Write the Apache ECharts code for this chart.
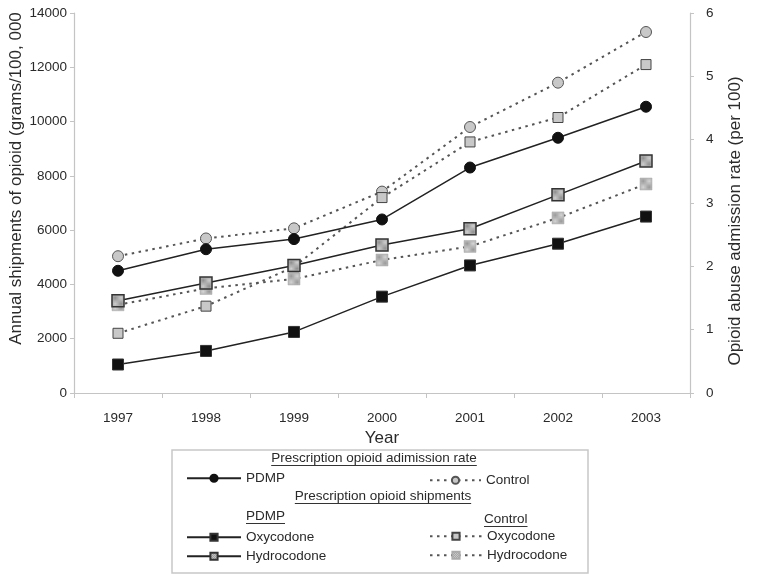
<!DOCTYPE html>
<html>
<head>
<meta charset="utf-8">
<script src="https://cdn.jsdelivr.net/npm/echarts@6/dist/echarts.min.js"></script>
<style>
html,body{margin:0;padding:0;background:#fff;}
#chart{width:769px;height:587px;}
</style>
</head>
<body>
<div id="chart"></div>
<script>
// ---- data ----
const years = ['1997', '1998', '1999', '2000', '2001', '2002', '2003'];
// Admission rate (per 100) - right axis
const pdmpRate = [1.93, 2.27, 2.43, 2.74, 3.56, 4.03, 4.52];
const controlRate = [2.16, 2.44, 2.60, 3.18, 4.20, 4.90, 5.70];
// Shipments (grams/100,000) - left axis
const pdmpOxy = [1050, 1550, 2250, 3550, 4700, 5500, 6500];
const pdmpHydro = [3400, 4050, 4700, 5450, 6050, 7300, 8550];
const controlOxy = [2200, 3200, 4650, 7200, 9250, 10150, 12100];
const controlHydro = [3250, 3850, 4200, 4900, 5400, 6450, 7700];
// axis ranges
const leftAxisRange = [0, 14000, 2000];
const rightAxisRange = [0, 6, 1];

const FONT = '"Liberation Sans", Arial, sans-serif';
const TXT = '#2a2a2a';

function stipple(a, b) {
  const c = document.createElement('canvas');
  c.width = 2; c.height = 2;
  const g = c.getContext('2d');
  g.fillStyle = a; g.fillRect(0, 0, 2, 2);
  g.fillStyle = b; g.fillRect(0, 0, 1, 1); g.fillRect(1, 1, 1, 1);
  return c;
}
const stipA = { image: stipple('#d2d2d2', '#8c8c8c'), repeat: 'repeat' };
const stipB = { image: stipple('#d8d8d8', '#969696'), repeat: 'repeat' };

const solidLine = { color: '#222', width: 1.5, type: 'solid' };
const dotLine = { color: '#555', width: 2, type: [2.5, 4.5] };

const chart = echarts.init(document.getElementById('chart'), null, { renderer: 'canvas' });

function leg(name, label, left, cy, w) {
  return {
    data: [name], formatter: label, left: left, top: cy - 7.75,
    orient: 'horizontal', itemWidth: w, itemHeight: 9, padding: 0, itemGap: 0,
    selectedMode: false,
    textStyle: { fontFamily: FONT, fontSize: 13.5, color: TXT }
  };
}

// measure text for underlines
const mctx = document.createElement('canvas').getContext('2d');
function tw(t, size) { mctx.font = size + 'px ' + FONT; return mctx.measureText(t).width; }
function heading(t, cx, cy, align) {
  const w = tw(t, 13.5);
  const x0 = align === 'left' ? cx : cx - w / 2;
  return [
    { type: 'text', x: x0, y: cy, style: { text: t, fontFamily: FONT, fontSize: 13.5, fill: TXT, textAlign: 'left', textVerticalAlign: 'middle' } },
    { type: 'line', shape: { x1: x0, y1: cy + 7.5, x2: x0 + w, y2: cy + 7.5 }, style: { stroke: '#333', lineWidth: 1 } }
  ];
}

const option = {
  animation: false,
  backgroundColor: '#fff',
  grid: { left: 74, right: 79, top: 13, bottom: 194, containLabel: false, outerBoundsMode: 'none' },
  xAxis: {
    type: 'category', data: years, boundaryGap: true,
    name: 'Year', nameLocation: 'middle', nameGap: 37,
    nameTextStyle: { fontFamily: FONT, fontSize: 17, color: TXT },
    axisLine: { lineStyle: { color: '#c4c4c4', width: 1.2 } },
    axisTick: { show: true, length: 5, lineStyle: { color: '#c4c4c4' } },
    axisLabel: { margin: 18, fontFamily: FONT, fontSize: 13.5, color: TXT },
    splitLine: { show: false }
  },
  yAxis: [
    {
      type: 'value', position: 'left', min: leftAxisRange[0], max: leftAxisRange[1], interval: leftAxisRange[2],
      name: 'Annual shipments of opioid (grams/100, 000', nameLocation: 'middle', nameGap: 49,
      nameMoveOverlap: false,
      nameTextStyle: { fontFamily: FONT, fontSize: 17, color: TXT, padding: [0, 0, 0, 49] },
      axisLine: { show: true, lineStyle: { color: '#c4c4c4', width: 1.2 } },
      axisTick: { show: true, length: 4, lineStyle: { color: '#c4c4c4' } },
      axisLabel: { margin: 7, fontFamily: FONT, fontSize: 13.5, color: TXT, formatter: v => String(v) },
      splitLine: { show: false }
    },
    {
      type: 'value', position: 'right', min: rightAxisRange[0], max: rightAxisRange[1], interval: rightAxisRange[2],
      name: 'Opioid abuse admission rate (per 100)', nameLocation: 'middle', nameGap: 37,
      nameTextStyle: { fontFamily: FONT, fontSize: 17, color: TXT, padding: [0, 36, 0, 0] },
      axisLine: { show: true, lineStyle: { color: '#c4c4c4', width: 1.2 } },
      axisTick: { show: true, length: 4, lineStyle: { color: '#c4c4c4' } },
      axisLabel: { margin: 16, fontFamily: FONT, fontSize: 13.5, color: TXT },
      splitLine: { show: false }
    }
  ],
  legend: [
    leg('PDMP admission rate', 'PDMP', 186, 479, 54),
    leg('Control admission rate', 'Control', 429, 481, 51),
    leg('PDMP Oxycodone', 'Oxycodone', 186, 538, 54),
    leg('PDMP Hydrocodone', 'Hydrocodone', 186, 557, 54),
    leg('Control Oxycodone', 'Oxycodone', 429, 537, 52),
    leg('Control Hydrocodone', 'Hydrocodone', 429, 556, 52)
  ],
  graphic: [
    { type: 'rect', shape: { x: 172, y: 450, width: 416, height: 123 }, style: { fill: 'none', stroke: '#c8c8c8', lineWidth: 1.5 } },
    ...heading('Prescription opioid adimission rate', 374, 458, 'center'),
    ...heading('Prescription opioid shipments', 383, 496, 'center'),
    ...heading('PDMP', 246, 516, 'left'),
    ...heading('Control', 484, 519, 'left')
  ],
  series: [
    {
      name: 'Control admission rate', type: 'line', yAxisIndex: 1, data: controlRate,
      symbol: 'circle', symbolSize: 11, lineStyle: dotLine,
      itemStyle: { color: '#c8c8c8', borderColor: '#555', borderWidth: 1 },
      emphasis: { disabled: true }
    },
    {
      name: 'Control Oxycodone', type: 'line', yAxisIndex: 0, data: controlOxy,
      symbol: 'rect', symbolSize: 10, lineStyle: dotLine,
      itemStyle: { color: '#c8c8c8', borderColor: '#444', borderWidth: 1 },
      emphasis: { disabled: true }
    },
    {
      name: 'PDMP admission rate', type: 'line', yAxisIndex: 1, data: pdmpRate,
      symbol: 'circle', symbolSize: 11, lineStyle: solidLine,
      itemStyle: { color: '#111', borderColor: '#111', borderWidth: 1 },
      emphasis: { disabled: true }
    },
    {
      name: 'PDMP Oxycodone', type: 'line', yAxisIndex: 0, data: pdmpOxy,
      symbol: 'rect', symbolSize: 11, lineStyle: solidLine,
      itemStyle: { color: '#111', borderColor: '#333', borderWidth: 1 },
      emphasis: { disabled: true }
    },
    {
      name: 'Control Hydrocodone', type: 'line', yAxisIndex: 0, data: controlHydro,
      symbol: 'rect', symbolSize: 12, lineStyle: dotLine,
      itemStyle: { color: stipB, borderColor: '#aaa', borderWidth: 0.5 },
      emphasis: { disabled: true }
    },
    {
      name: 'PDMP Hydrocodone', type: 'line', yAxisIndex: 0, data: pdmpHydro,
      symbol: 'rect', symbolSize: 12, lineStyle: solidLine,
      itemStyle: { color: stipA, borderColor: '#333', borderWidth: 1.5 },
      emphasis: { disabled: true }
    }
  ]
};
chart.setOption(option);
</script>
</body>
</html>
